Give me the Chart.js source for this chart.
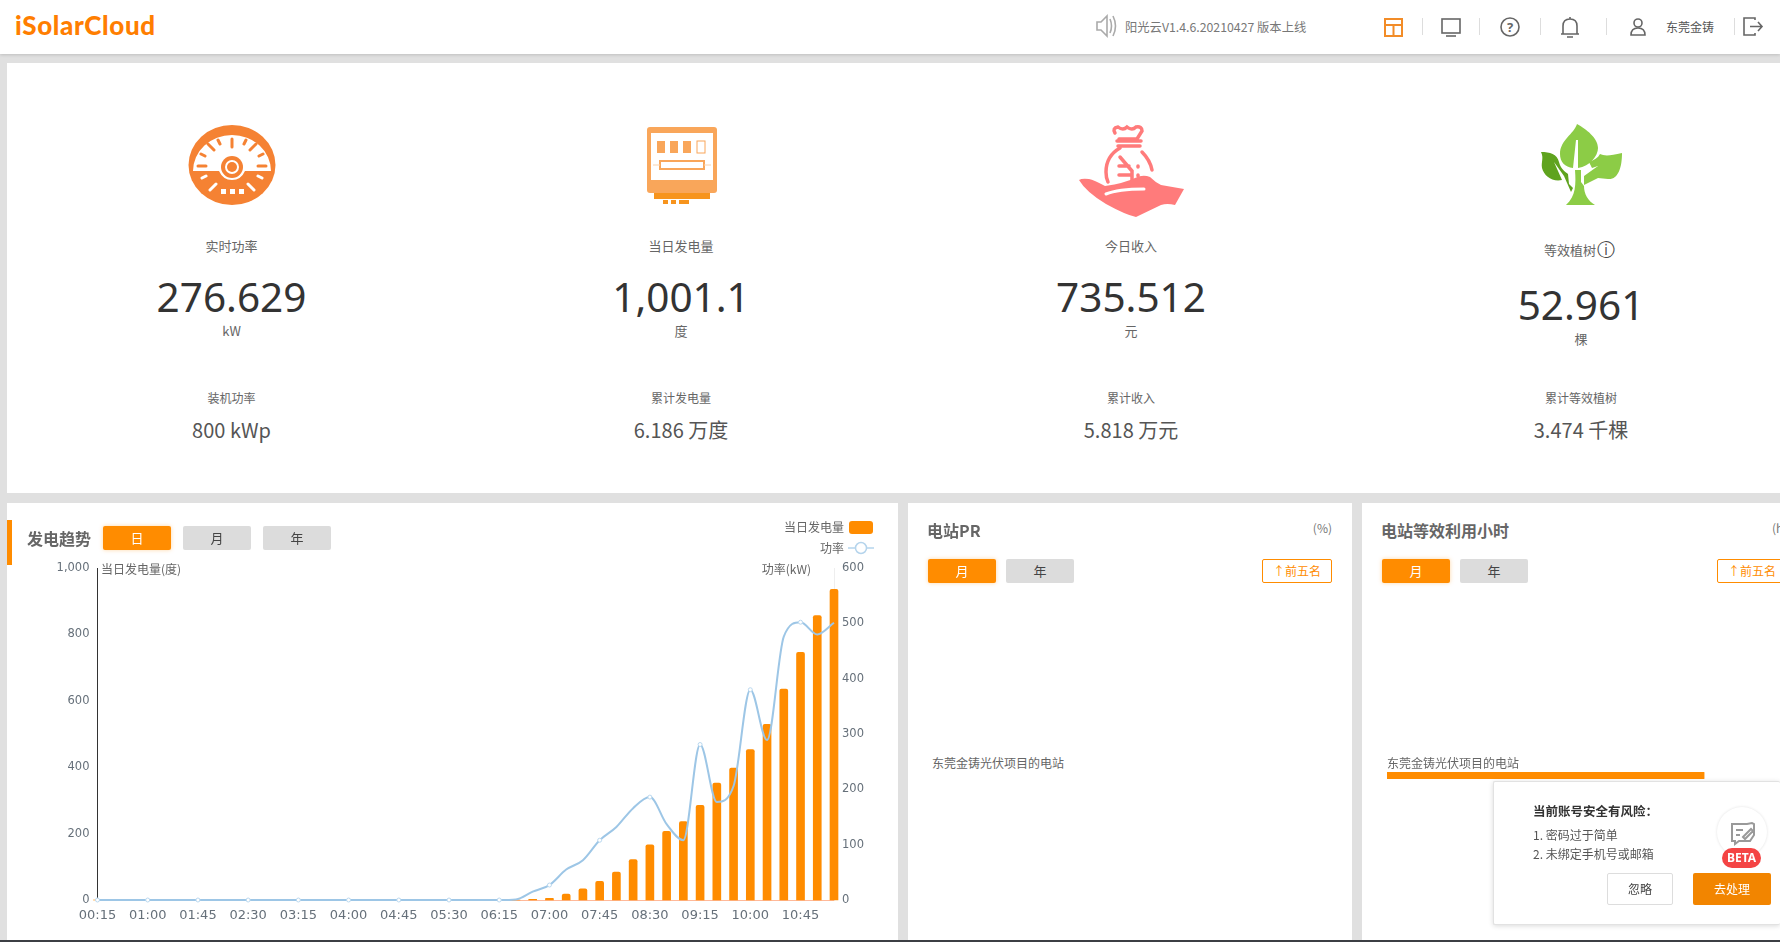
<!DOCTYPE html>
<html>
<head>
<meta charset="utf-8">
<title>iSolarCloud</title>
<script src="https://cdn.jsdelivr.net/npm/chart.js@4/dist/chart.umd.min.js"></script>
<style>
  html, body { margin: 0; padding: 0; }
  body { width: 1780px; height: 942px; overflow: hidden; position: relative; background: #e0e0e0;
         font-family: "Noto Sans CJK SC", "Noto Sans", sans-serif; color: #666; }
  .box { position: absolute; background: #fff; }
  .t { position: absolute; white-space: nowrap; line-height: 1; }
  .btn { position: absolute; height: 24px; line-height: 24px; width: 68px; text-align: center; font-size: 13px;
         background: #dcdcdc; color: #444; border-radius: 2px; }
  .btn.on { background: #ff8c00; color: #fff; box-shadow: 0 0 4px rgba(255,140,0,.35); }
  .top5 { position: absolute; top: 559px; width: 68px; height: 22px; line-height: 22px; text-align: center; font-size: 12px;
          color: #ff8c00; border: 1px solid #ff8c00; border-radius: 2px; background: #fff; }
  svg { position: absolute; overflow: visible; }
  canvas { position: absolute; }
</style>
</head>
<body>
  <div class="box" style="left:0;top:0;width:1780px;height:54px;box-shadow:0 1px 3px rgba(0,0,0,.15)"></div>
  <div class="box" style="left:7px;top:63px;width:1773px;height:430px"></div>
  <div class="box" style="left:7px;top:503px;width:891px;height:437px"></div>
  <div class="box" style="left:908px;top:503px;width:444px;height:437px"></div>
  <div class="box" style="left:1362px;top:503px;width:418px;height:437px"></div>
  <div class="box" style="left:7px;top:520px;width:5px;height:45px;background:#ff8c00"></div>

  <!-- header icons -->
  <svg style="left:0;top:0" width="1780" height="54" fill="none" stroke="#666" stroke-width="1.6">
    <path d="M1097 22h4l6-6v20l-6-6h-4z M1110 19q3 7 0 14 M1113 16q5 10 0 20" stroke="#aaa"/>
    <rect x="1385" y="19" width="17" height="17" stroke="#f28c28" stroke-width="2"/>
    <path d="M1385 25h17 M1393.500 25v11" stroke="#f28c28" stroke-width="2"/>
    <path d="M1422.500 18v17 M1479.500 18v17 M1540.500 18v17 M1606.500 18v17 M1734.500 18v17" stroke="#ddd" stroke-width="1"/>
    <rect x="1442" y="19" width="18" height="14"/><path d="M1446 36h10"/>
    <circle cx="1510" cy="27" r="9"/>
    <path d="M1561 34h18 M1563 34v-8q0-7 7-7t7 7v8 M1567 37h6 M1570 19v-2"/>
    <circle cx="1638" cy="23" r="4"/><path d="M1631 35q0-7 7-7t7 7z"/>
    <path d="M1755 20v-2h-11v17h11v-2 M1750 26.500h12 M1758 22l4 4.500-4 4.500"/>
  </svg>

  <!-- stat icons -->
  <svg style="left:188px;top:125px" width="88" height="80" viewBox="0 0 88 80">
    <ellipse cx="44" cy="40" rx="43.500" ry="40" fill="#f58233"/>
    <path d="M5 46a39 36 0 0 1 78 0h-26q-4 9-13 9t-13-9z" fill="#fff"/>
    <circle cx="44" cy="42" r="11" fill="#f58233"/><circle cx="44" cy="42" r="7" fill="#fff"/><circle cx="44" cy="42" r="5" fill="#f58233"/>
    <path d="M44 14v8 M10 41h8 M70 41h8 M20 19l6 6 M68 19l-6 6 M30 15l2 4 M58 15l-2 4 M13 29l4 2 M75 29l-4 2" stroke="#f58233" stroke-width="3" stroke-linecap="round"/>
    <path d="M14 53l4-2 M74 53l-4-2 M22 65l6-6 M66 65l-6-6" stroke="#fff" stroke-width="3" stroke-linecap="round"/>
    <rect x="33" y="64" width="5" height="5" fill="#fff"/><rect x="42" y="64" width="5" height="5" fill="#fff"/><rect x="51" y="64" width="5" height="5" fill="#fff"/>
  </svg>
  <svg style="left:647px;top:127px" width="70" height="78" viewBox="0 0 70 78">
    <rect x="0" y="0" width="70" height="66" rx="3" fill="#f9a65a"/>
    <rect x="4" y="6" width="62" height="47" fill="#fff"/>
    <rect x="10" y="14" width="8" height="12" fill="#f9a65a"/><rect x="23" y="14" width="8" height="12" fill="#f9a65a"/><rect x="36" y="14" width="8" height="12" fill="#f9a65a"/>
    <rect x="50" y="14" width="8" height="12" fill="#fff" stroke="#f9a65a"/>
    <rect x="13" y="34" width="44" height="8" fill="#fff" stroke="#f9a65a" stroke-width="2"/>
    <path d="M6 38h7 M57 38h7" stroke="#fad3ad"/>
    <rect x="7" y="66" width="56" height="6" fill="#f7941d"/>
    <rect x="16" y="73" width="5" height="4" fill="#f7941d"/><rect x="24" y="73" width="5" height="4" fill="#f7941d"/><rect x="32" y="73" width="10" height="4" fill="#f7941d"/>
  </svg>
  <svg style="left:1078px;top:124px" width="106" height="82" viewBox="0 0 106 82">
    <g fill="none" stroke="#ff7b7b" stroke-width="3.500" stroke-linecap="round">
      <path d="M37 9q-3-5 3-6 5 4 9 0 5 4 9 0 6-1 6 4l-5 8h-18 M39 17h24 M40 22h22 M42 24q-14 8-14 24 0 6 2 10 M64 28q8 8 10 18"/>
      <path d="M42 33l12 14v14 M41 42h10 M41 51h12 M60 42v1 M60 51v1"/>
    </g>
    <path d="M1 56q3-2 10-1 5 1 16 7 20-3 30-8 8-4 15-1 5 5 11 8l23 4-9 16q-8-2-14 0l-25 12q-10-2-30-13-20-12-27-24z" fill="#ff7b7b"/>
    <path d="M28 70q12-5 38-5" stroke="#fff" stroke-width="3" fill="none" stroke-linecap="round"/>
  </svg>
  <svg style="left:1540px;top:124px" width="84" height="82" viewBox="0 0 84 82">
    <path d="M37 0C34 10 20 16 20 30C20 38 25 43 33 44L36 16L38 16L38 44C50 42 58 32 58 24C58 14 46 5 37 0Z" fill="#8ccc46"/>
    <path d="M60 30C64 32 70 32 82 29C82 44 78 56 68 55L58 54L44 61L44 52L58 42L52 44L49 38C54 36 58 34 60 30Z" fill="#8ccc46"/>
    <path d="M1 28C10 28 17 30 19 38C21 46 26 48 28 50L29 60L33 64L31 68L24 52L14 38L22 56C12 58 4 52 2 44C1 38 4 34 1 28Z" fill="#5fa31e"/>
    <path d="M35 46L41 46L41 58L44 62C44 70 48 77 55 81L26 81C36 72 36 60 35 46Z" fill="#8ccc46"/>
  </svg>

  <!-- chart canvases -->
  <canvas id="trend" width="890" height="400" style="left:8px;top:540px;width:890px;height:400px"></canvas>
  <canvas id="hours" width="393" height="30" style="left:1387px;top:760px;width:393px;height:30px"></canvas>

  <!-- legend swatches -->
  <div class="box" style="left:849px;top:521px;width:24px;height:13px;background:#ff8c00;border-radius:3px"></div>
  <svg style="left:848px;top:542px" width="26" height="12">
    <path d="M0 6h26" stroke="#b5d4ec" stroke-width="1.500"/><circle cx="13" cy="6" r="5.500" fill="#fff" stroke="#b5d4ec" stroke-width="1.500"/>
  </svg>

  <!-- security popup -->
  <div class="box" style="left:1493px;top:781px;width:287px;height:144px;border:1px solid #e2e2e2;border-right:0;box-sizing:border-box;box-shadow:0 1px 5px rgba(0,0,0,.15);border-radius:2px"></div>
  <div class="box" style="left:1607px;top:873px;width:66px;height:32px;border:1px solid #ddd;box-sizing:border-box;border-radius:2px"></div>
  <div class="box" style="left:1693px;top:873px;width:78px;height:32px;background:#f28500;border-radius:2px"></div>
  <div class="box" style="left:1717px;top:807px;width:50px;height:50px;border-radius:50%;box-shadow:0 0 3px rgba(0,0,0,.12)"></div>
  <svg style="left:1730px;top:823px" width="26" height="22" fill="none" stroke="#999" stroke-width="2">
    <path d="M17 1H2v17h3l0 3 4-3h11l4-6 0-11-2-1z M6 7h7 M6 12h4 M13 14l8-8 2 2-8 8z"/>
  </svg>
  <div class="box" style="left:1722px;top:848px;width:39px;height:20px;background:#f44444;border-radius:10px;color:#fff;font-size:12px;font-weight:700;line-height:20px;text-align:center;font-family:'Noto Sans'">BETA</div>

  <!-- dark edge at the very bottom of the screenshot -->
  <div class="box" style="left:0;top:940px;width:1780px;height:2px;background:#3c3f44"></div>

<script>
// --- chart data -------------------------------------------------------------
const timeLabels = [
  '00:15','00:30','00:45','01:00','01:15','01:30','01:45','02:00','02:15','02:30','02:45','03:00',
  '03:15','03:30','03:45','04:00','04:15','04:30','04:45','05:00','05:15','05:30','05:45','06:00',
  '06:15','06:30','06:45','07:00','07:15','07:30','07:45','08:00','08:15','08:30','08:45','09:00',
  '09:15','09:30','09:45','10:00','10:15','10:30','10:45','11:00','11:15'
];
const energyValues = [
  0,0,0,0,0,0,0,0,0,0,0,0,0,0,0,0,0,0,0,0,0,0,0,0,
  0,0,2,5,18,34,56,84,122,166,207,236,285,352,397,453,529,635,746,857,936
];
const powerValues = [
  0,0,0,0,0,0,0,0,0,0,0,0,0,0,0,0,0,0,0,0,0,0,0,0,
  0,1,15,27,55,72,108,132,166,186,137,108,281,177,206,380,289,476,502,480,501
];
const energyTicks = { max: 1000, step: 200 };
const powerTicks = { max: 600, step: 100 };
const stationName = ['东莞金铸光伏项目的电站'];
const stationHours = [77.3];

// --- page text --------------------------------------------------------------
const stats = [
  { x: 231.5, y: [245, 297, 330], label: '实时功率', value: '276.629', unit: 'kW', subLabel: '装机功率', subValue: '800 kWp' },
  { x: 681, y: [245, 297, 330], label: '当日发电量', value: '1,001.1', unit: '度', subLabel: '累计发电量', subValue: '6.186 万度' },
  { x: 1131, y: [245, 297, 330], label: '今日收入', value: '735.512', unit: '元', subLabel: '累计收入', subValue: '5.818 万元' },
  { x: 1581, y: [249, 305, 338], labelX: 1570, label: '等效植树', value: '52.961', unit: '棵', subLabel: '累计等效植树', subValue: '3.474 千棵' }
];

function addText(text, x, y, size, color, align, weight, family) {
  const el = document.createElement('div');
  el.className = 't';
  el.textContent = text;
  el.style.left = x + 'px';
  el.style.top = y + 'px';
  el.style.fontSize = size + 'px';
  el.style.color = color;
  if (weight) el.style.fontWeight = weight;
  if (family) el.style.fontFamily = family;
  const dx = align === 'center' ? '-50%' : align === 'right' ? '-100%' : '0';
  el.style.transform = 'translate(' + dx + ',-50%)';
  document.body.appendChild(el);
  return el;
}

function addButton(text, x, top, on) {
  const el = document.createElement('div');
  el.className = on ? 'btn on' : 'btn';
  el.textContent = text;
  el.style.left = x + 'px';
  el.style.top = top + 'px';
  document.body.appendChild(el);
}

function addTop5(x) {
  const el = document.createElement('div');
  el.className = 'top5';
  el.textContent = '↑前五名';
  el.style.left = x + 'px';
  document.body.appendChild(el);
}

addText('iSolarCloud', 15, 25, 26, '#ff7e00', 'left', 900, 'Lato').style.letterSpacing = '0.6px';
addText('阳光云V1.4.6.20210427 版本上线', 1125, 27, 12.3, '#777', 'left');
addText('?', 1510, 27, 13, '#666', 'center', 700, 'Noto Sans');
addText('东莞金铸', 1666, 27, 12, '#555', 'left');

stats.forEach((s) => {
  addText(s.label, s.labelX || s.x, s.y[0], 13, '#666', 'center');
  addText(s.value, s.x, s.y[1], 40.5, '#333', 'center', 400, 'Noto Sans');
  addText(s.unit, s.x, s.y[2], 13, '#666', 'center');
  addText(s.subLabel, s.x, 398, 12, '#666', 'center');
  addText(s.subValue, s.x, 430, 20, '#555', 'center');
});
addText('ⓘ', 1606, 250, 18, '#444', 'center', 400, 'DejaVu Sans');

addText('发电趋势', 27, 538, 16, '#666', 'left', 700);
addButton('日', 103, 526, true);
addButton('月', 183, 526);
addButton('年', 263, 526);
addText('当日发电量', 844, 527, 12, '#666', 'right');
addText('功率', 844, 548, 12, '#666', 'right');
addText('当日发电量(度)', 101, 569, 12, '#666', 'left');
addText('功率(kW)', 811, 569, 12, '#666', 'right');

addText('电站PR', 927, 530, 16, '#666', 'left', 700);
addText('(%)', 1332, 528, 12, '#777', 'right');
addButton('月', 928, 559, true);
addButton('年', 1006, 559);
addTop5(1262);
addText('东莞金铸光伏项目的电站', 932, 763, 12, '#666', 'left');

addText('电站等效利用小时', 1381, 530, 16, '#666', 'left', 700);
addText('(h', 1772, 528, 12, '#777', 'left');
addButton('月', 1382, 559, true);
addButton('年', 1460, 559);
addTop5(1717);
addText(stationName[0], 1387, 763, 12, '#666', 'left');

addText('当前账号安全有风险：', 1533, 811, 12.5, '#333', 'left', 700);
addText('1. 密码过于简单', 1533, 835, 12, '#555', 'left');
addText('2. 未绑定手机号或邮箱', 1533, 854, 12, '#555', 'left');
addText('忽略', 1640, 889, 12, '#444', 'center');
addText('去处理', 1732, 889, 12, '#fff', 'center');

// --- charts -----------------------------------------------------------------
const lineColor = '#9dc6e6';

new Chart(document.getElementById('trend'), {
  type: 'bar',
  data: {
    labels: timeLabels,
    datasets: [
      {
        type: 'line',
        label: '功率',
        data: powerValues,
        yAxisID: 'yPower',
        borderColor: lineColor,
        borderWidth: 2,
        backgroundColor: '#fff',
        cubicInterpolationMode: 'monotone',
        pointRadius: (ctx) => (ctx.dataIndex % 3 === 0 ? 2 : 0),
        pointBorderColor: '#b9d7ee',
        pointBorderWidth: 1,
        pointBackgroundColor: '#fff',
        clip: false,
        order: 1
      },
      {
        label: '当日发电量',
        data: energyValues,
        yAxisID: 'yEnergy',
        backgroundColor: '#ff8c00',
        barThickness: 8,
        borderRadius: { topLeft: 2, topRight: 2 },
        clip: false,
        order: 2
      }
    ]
  },
  options: {
    responsive: false,
    animation: false,
    layout: { padding: { top: 28 } },
    plugins: { legend: { display: false }, tooltip: { enabled: false } },
    scales: {
      x: {
        offset: false,
        grid: { display: false, drawTicks: false },
        border: { color: '#ffb99a' },
        afterFit: (scale) => { scale.height = 40; },
        ticks: {
          autoSkip: false,
          maxRotation: 0,
          padding: 8,
          color: '#66707a',
          font: { family: 'DejaVu Sans', size: 13 },
          callback: (value, index) => (index % 3 === 0 ? timeLabels[index] : '')
        }
      },
      yEnergy: {
        position: 'left',
        min: 0,
        max: energyTicks.max,
        grid: { display: false, drawTicks: false },
        border: { color: '#333' },
        afterFit: (scale) => { scale.width = 89.5; },
        ticks: {
          stepSize: energyTicks.step,
          padding: 8,
          color: '#66707a',
          font: { family: 'DejaVu Sans', size: 11.5 }
        }
      },
      yPower: {
        position: 'right',
        min: 0,
        max: powerTicks.max,
        grid: { display: false, drawTicks: false },
        border: { color: '#eeeeee' },
        afterFit: (scale) => { scale.width = 64; },
        ticks: {
          stepSize: powerTicks.step,
          padding: 8,
          color: '#66707a',
          font: { family: 'DejaVu Sans', size: 11.5 }
        }
      }
    }
  }
});

new Chart(document.getElementById('hours'), {
  type: 'bar',
  data: {
    labels: stationName,
    datasets: [{ data: stationHours, backgroundColor: '#ff8c00', barThickness: 7, borderRadius: 1 }]
  },
  options: {
    indexAxis: 'y',
    responsive: false,
    animation: false,
    layout: { padding: { top: 12, bottom: 11 } },
    plugins: { legend: { display: false }, tooltip: { enabled: false } },
    scales: {
      x: { display: false, min: 0, max: 95.8 },
      y: { display: false }
    }
  }
});
</script>
</body>
</html>
